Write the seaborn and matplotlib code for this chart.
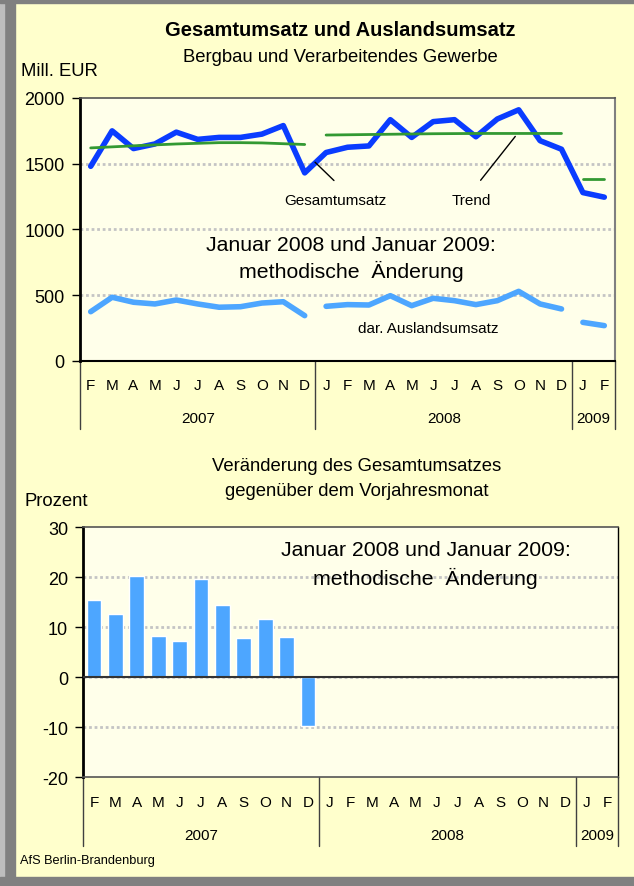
import numpy as np
import pandas as pd
import matplotlib
matplotlib.use("Agg")
import matplotlib.pyplot as plt
import matplotlib.transforms as mtransforms
from matplotlib.patches import Rectangle
import seaborn as sns

# ---------------- data ----------------
months = ["F", "M", "A", "M", "J", "J", "A", "S", "O", "N", "D",
          "J", "F", "M", "A", "M", "J", "J", "A", "S", "O", "N", "D",
          "J", "F"]
years = ["2007"] * 11 + ["2008"] * 12 + ["2009"] * 2
year_labels = ["2007", "2008", "2009"]

gesamtumsatz = [1480, 1750, 1615, 1650, 1740, 1685, 1700, 1700, 1725, 1790, 1430,
                1585, 1625, 1635, 1835, 1700, 1820, 1835, 1705, 1840, 1910, 1675, 1610,
                1280, 1245]
trend = [1620, 1628, 1636, 1643, 1650, 1655, 1660, 1660, 1658, 1652, 1646,
         1718, 1720, 1722, 1724, 1726, 1728, 1729, 1730, 1730, 1730, 1730, 1730,
         1380, 1380]
auslandsumsatz = [373, 483, 445, 432, 462, 432, 407, 411, 439, 449, 343,
                  414, 427, 424, 495, 419, 475, 457, 427, 457, 528, 432, 394,
                  292, 267]
veraenderung = [15.5, 12.7, 20.3, 8.3, 7.3, 19.7, 14.5, 7.9, 11.7, 8.1, -9.7]

pos = list(range(len(months)))
segment = [0 if y == "2007" else (1 if y == "2008" else 2) for y in years]

df = pd.DataFrame({"pos": pos, "gesamt": gesamtumsatz, "trend": trend,
                   "ausland": auslandsumsatz, "seg": segment, "one": 0})
df_bar = pd.DataFrame({"pos": pos[:len(veraenderung)], "val": veraenderung})

# ---------------- style ----------------
sns.set_theme(style="white")
plt.rcParams["font.family"] = ["Liberation Sans", "DejaVu Sans"]
plt.rcParams["text.color"] = "black"
plt.rcParams["axes.labelcolor"] = "black"
plt.rcParams["xtick.color"] = "black"
plt.rcParams["ytick.color"] = "black"

BG = "#FFFFCC"
PLOT_BG = "#FFFFEA"
BLUE = "#0A3CFF"
LIGHT = "#4DA6FF"
GREEN = "#339933"
GRID = "#C4C4C4"

W, H = 634, 887
fig = plt.figure(figsize=(W / 100, H / 100), dpi=100, facecolor=BG)

# frame
fig.patches.append(Rectangle((0, 0), 15 / W, 1, transform=fig.transFigure, color="#808080", zorder=0))
fig.patches.append(Rectangle((0, 0), 4 / W, 1, transform=fig.transFigure, color="#BDBDBD", zorder=0))
fig.patches.append(Rectangle((0, 1 - 4 / H), 1, 4 / H, transform=fig.transFigure, color="#808080", zorder=0))
fig.patches.append(Rectangle((0, 0), 1, 9 / H, transform=fig.transFigure, color="#808080", zorder=0))


def frac_axes(l, r, t, b):
    return [l / W, 1 - b / H, (r - l) / W, (b - t) / H]


def style_axes(ax, ymin, ymax, yticks, sep_len, month_y, year_y):
    ax.set_facecolor(PLOT_BG)
    ax.set_xlim(-0.5, len(months) - 0.5)
    ax.set_ylim(ymin, ymax)
    ax.set_yticks(yticks)
    ax.set_yticklabels([str(v) for v in yticks], fontsize=13, color="black")
    ax.tick_params(axis="y", length=6, width=1, pad=5, color="black", left=True)
    ax.set_xticks([])
    ax.set_xlabel("")
    ax.set_ylabel("")
    for v in yticks:
        if ymin < v < ymax:
            ax.axhline(v, color=GRID, lw=2, ls=(0, (1, 1)), zorder=0.5)
    ax.spines["left"].set_color("black")
    ax.spines["left"].set_linewidth(2)
    ax.spines["top"].set_color("#555555")
    ax.spines["top"].set_linestyle((0, (1, 1)))
    ax.spines["top"].set_linewidth(1.2)
    trans = mtransforms.blended_transform_factory(ax.transData, ax.transAxes)
    for i, m in enumerate(months):
        ax.text(i, month_y, m, transform=trans, ha="center", va="center", fontsize=11,
                color="black")
    starts = {}
    for i, y in enumerate(years):
        starts.setdefault(y, []).append(i)
    for y in year_labels:
        idx = starts[y]
        ax.text((idx[0] + idx[-1]) / 2, year_y, y, transform=trans, ha="center",
                va="center", fontsize=11, color="black")
    bounds = [-0.5] + [starts[y][-1] + 0.5 for y in year_labels]
    for bx in bounds:
        ax.plot([bx, bx], [0, -sep_len], transform=trans, color="#404040", lw=1,
                clip_on=False)


# ---------------- top chart ----------------
ax1 = fig.add_axes(frac_axes(80, 615, 99, 361.7))
style_axes(ax1, 0, 2000, [0, 500, 1000, 1500, 2000], 0.26, -0.0925, -0.218)
ax1.spines["bottom"].set_color("black")
ax1.spines["bottom"].set_linewidth(1.5)
ax1.spines["right"].set_color("#808080")
ax1.spines["right"].set_linewidth(1.5)

sns.lineplot(data=df, x="pos", y="ausland", units="seg", estimator=None,
             color=LIGHT, lw=4, ax=ax1, zorder=3)
sns.lineplot(data=df, x="pos", y="trend", units="seg", estimator=None,
             color=GREEN, lw=2, ax=ax1, zorder=4)
sns.lineplot(data=df, x="pos", y="gesamt", units="one", estimator=None,
             color=BLUE, lw=4, ax=ax1, zorder=3)
ax1.set_xlim(-0.5, len(months) - 0.5)
ax1.set_ylim(0, 2000)
ax1.set_xticks([])
ax1.set_xlabel("")
ax1.set_ylabel("")

ax1.annotate("", xy=(10.39, 1526), xytext=(11.46, 1357),
             arrowprops=dict(arrowstyle="-", color="black", lw=1))
ax1.annotate("", xy=(19.92, 1724), xytext=(18.14, 1357),
             arrowprops=dict(arrowstyle="-", color="black", lw=1))
ax1.text(11.42, 1227, "Gesamtumsatz", ha="center", va="center", fontsize=11)
ax1.text(17.77, 1227, "Trend", ha="center", va="center", fontsize=11)
ax1.text(12.16, 883, "Januar 2008 und Januar 2009:", ha="center", va="center", fontsize=15.3)
ax1.text(12.16, 684, "methodische  Änderung", ha="center", va="center", fontsize=15.3)
ax1.text(15.76, 250, "dar. Auslandsumsatz", ha="center", va="center", fontsize=11)

# ---------------- bottom chart ----------------
ax2 = fig.add_axes(frac_axes(83.3, 618.3, 528.3, 778.3))
sns.barplot(data=df_bar, x="pos", y="val", native_scale=True, width=0.7,
            color=LIGHT, saturation=1, errorbar=None, ax=ax2, zorder=3)
style_axes(ax2, -20, 30, [-20, -10, 0, 10, 20, 30], 0.275, -0.099, -0.23)
ax2.axhline(0, color="#333333", lw=1.5, zorder=4)
ax2.spines["bottom"].set_color("#555555")
ax2.spines["bottom"].set_linestyle((0, (1, 1)))
ax2.spines["bottom"].set_linewidth(1.2)
ax2.spines["right"].set_color("black")
ax2.spines["right"].set_linewidth(1)
ax2.text(15.5, 25.46, "Januar 2008 und Januar 2009:", ha="center", va="center", fontsize=15.3)
ax2.text(15.5, 20.06, "methodische  Änderung", ha="center", va="center", fontsize=15.3)

# ---------------- figure texts ----------------
fig.text(340 / W, 1 - 31 / H, "Gesamtumsatz und Auslandsumsatz", ha="center", va="center",
         fontsize=14.5, fontweight="bold")
fig.text(340 / W, 1 - 57 / H, "Bergbau und Verarbeitendes Gewerbe", ha="center", va="center",
         fontsize=13.3)
fig.text(21 / W, 1 - 71 / H, "Mill. EUR", ha="left", va="center", fontsize=13.3)
fig.text(357 / W, 1 - 467 / H, "Veränderung des Gesamtumsatzes", ha="center", va="center",
         fontsize=13.3)
fig.text(357 / W, 1 - 492 / H, "gegenüber dem Vorjahresmonat", ha="center", va="center",
         fontsize=13.3)
fig.text(24 / W, 1 - 502 / H, "Prozent", ha="left", va="center", fontsize=13.3)
fig.text(20 / W, 1 - 861 / H, "AfS Berlin-Brandenburg", ha="left", va="center", fontsize=9.2)

fig.savefig("out.png", dpi=100, facecolor=BG)
